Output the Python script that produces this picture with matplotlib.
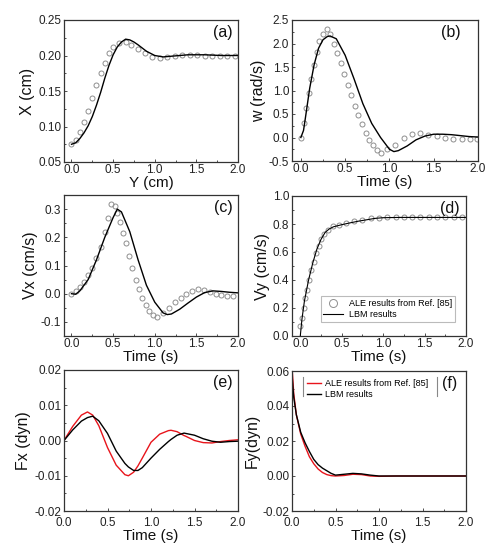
import matplotlib
matplotlib.use("Agg")
import matplotlib.pyplot as plt
from matplotlib.ticker import AutoMinorLocator, MultipleLocator
from matplotlib.lines import Line2D

plt.rcParams['font.family'] = ['Liberation Sans', 'DejaVu Sans']

# ---------------- data ----------------
# (a) X vs Y
a_lbm_y = [0.0, 0.05, 0.1, 0.15, 0.2, 0.25, 0.3, 0.35, 0.4, 0.45, 0.5, 0.55, 0.6, 0.65, 0.7, 0.75, 0.8, 0.9, 1.0, 1.1, 1.2, 1.3, 1.4, 1.6, 1.8, 2.0]
a_lbm_x = [0.075, 0.077, 0.083, 0.091, 0.101, 0.114, 0.130, 0.148, 0.168, 0.186, 0.201, 0.212, 0.219, 0.223, 0.222, 0.219, 0.215, 0.206, 0.200, 0.198, 0.199, 0.200, 0.201, 0.201, 0.200, 0.200]
a_ale_y = [0.0, 0.05, 0.1, 0.15, 0.2, 0.25, 0.3, 0.35, 0.4, 0.45, 0.5, 0.57, 0.65, 0.72, 0.8, 0.88, 0.97, 1.06, 1.15, 1.24, 1.33, 1.42, 1.51, 1.6, 1.69, 1.78, 1.87, 1.96]
a_ale_x = [0.076, 0.081, 0.092, 0.106, 0.122, 0.140, 0.158, 0.175, 0.190, 0.203, 0.212, 0.218, 0.219, 0.215, 0.209, 0.203, 0.198, 0.197, 0.198, 0.200, 0.201, 0.201, 0.201, 0.200, 0.200, 0.200, 0.200, 0.200]

# (b) w vs time
b_lbm_t = [0.0, 0.03, 0.05, 0.1, 0.15, 0.2, 0.25, 0.3, 0.33, 0.4, 0.5, 0.6, 0.7, 0.8, 0.9, 1.0, 1.05, 1.1, 1.2, 1.3, 1.4, 1.5, 1.6, 1.7, 1.8, 1.9, 2.0]
b_lbm_w = [0.0, 0.15, 0.4, 1.05, 1.55, 1.9, 2.08, 2.15, 2.16, 2.1, 1.75, 1.25, 0.72, 0.3, 0.0, -0.25, -0.3, -0.28, -0.18, -0.05, 0.03, 0.07, 0.07, 0.06, 0.04, 0.02, 0.01]
b_ale_t = [0.0, 0.03, 0.06, 0.09, 0.12, 0.15, 0.18, 0.21, 0.25, 0.29, 0.33, 0.37, 0.41, 0.45, 0.49, 0.53, 0.57, 0.61, 0.65, 0.69, 0.73, 0.77, 0.81, 0.86, 0.91, 0.97, 1.06, 1.16, 1.25, 1.35, 1.44, 1.54, 1.63, 1.72, 1.82, 1.91, 1.99]
b_ale_w = [0.0, 0.3, 0.62, 0.95, 1.25, 1.55, 1.82, 2.05, 2.2, 2.3, 2.21, 2.0, 1.8, 1.58, 1.35, 1.12, 0.9, 0.68, 0.47, 0.28, 0.1, -0.05, -0.17, -0.27, -0.33, -0.25, -0.15, 0.0, 0.07, 0.09, 0.06, 0.03, -0.01, -0.03, -0.04, -0.04, -0.04]

# (c) Vx vs time
c_lbm_t = [0.0, 0.05, 0.1, 0.2, 0.3, 0.4, 0.5, 0.55, 0.6, 0.7, 0.8, 0.9, 1.0, 1.1, 1.15, 1.2, 1.3, 1.4, 1.5, 1.6, 1.7, 1.8, 1.9, 2.0]
c_lbm_v = [0.0, -0.002, 0.01, 0.05, 0.12, 0.2, 0.27, 0.3, 0.29, 0.22, 0.12, 0.03, -0.03, -0.068, -0.074, -0.072, -0.055, -0.033, -0.012, 0.004, 0.01, 0.008, 0.005, 0.003]
c_ale_t = [0.0, 0.05, 0.1, 0.15, 0.2, 0.25, 0.3, 0.35, 0.4, 0.44, 0.48, 0.52, 0.55, 0.58, 0.62, 0.65, 0.69, 0.73, 0.77, 0.81, 0.85, 0.89, 0.93, 0.98, 1.03, 1.1, 1.17, 1.24, 1.31, 1.38, 1.45, 1.52, 1.59, 1.66, 1.73, 1.8, 1.87, 1.94]
c_ale_v = [0.0, 0.01, 0.022, 0.04, 0.065, 0.092, 0.125, 0.165, 0.22, 0.27, 0.317, 0.31, 0.285, 0.255, 0.215, 0.18, 0.135, 0.09, 0.05, 0.015, -0.015, -0.04, -0.06, -0.075, -0.082, -0.07, -0.05, -0.03, -0.015, 0.0, 0.01, 0.017, 0.012, 0.006, 0.0, -0.004, -0.007, -0.008]

# (d) Vy vs time
d_lbm_t = [0.0, 0.02, 0.05, 0.1, 0.15, 0.2, 0.25, 0.3, 0.35, 0.4, 0.5, 0.6, 0.7, 0.8, 0.9, 1.0, 1.2, 1.5, 2.0]
d_lbm_v = [0.0, 0.12, 0.25, 0.4, 0.52, 0.62, 0.69, 0.74, 0.765, 0.78, 0.795, 0.808, 0.82, 0.83, 0.84, 0.845, 0.847, 0.847, 0.847]
d_ale_t = [0.0, 0.02, 0.04, 0.06, 0.08, 0.1, 0.13, 0.16, 0.19, 0.22, 0.25, 0.29, 0.34, 0.4, 0.47, 0.55, 0.65, 0.75, 0.85, 0.95, 1.05, 1.15, 1.25, 1.35, 1.45, 1.55, 1.65, 1.75, 1.85, 1.95]
d_ale_v = [0.07, 0.13, 0.2, 0.27, 0.33, 0.4, 0.47, 0.53, 0.59, 0.64, 0.69, 0.73, 0.76, 0.785, 0.795, 0.805, 0.82, 0.83, 0.84, 0.845, 0.848, 0.848, 0.848, 0.848, 0.848, 0.848, 0.848, 0.848, 0.848, 0.848]

# (e) Fx vs time
e_t = [0.0, 0.1, 0.2, 0.27, 0.33, 0.4, 0.5, 0.6, 0.7, 0.74, 0.8, 0.85, 0.9, 1.0, 1.1, 1.2, 1.23, 1.3, 1.38, 1.4, 1.5, 1.6, 1.7, 1.8, 1.9, 2.0]
e_ale = [0.0, 0.004, 0.0072, 0.0081, 0.0072, 0.0042, -0.002, -0.007, -0.0097, -0.01, -0.009, -0.0072, -0.005, -0.0005, 0.0018, 0.0028, 0.0029, 0.0025, 0.0014, 0.0012, 0.0, -0.0006, -0.0007, -0.0003, 0.0, 0.0002]
e_lbm = [0.0, 0.003, 0.0055, 0.0065, 0.0069, 0.0056, 0.002, -0.003, -0.0065, -0.0075, -0.0085, -0.0085, -0.0077, -0.005, -0.0025, -0.0003, 0.0003, 0.0015, 0.0021, 0.002, 0.0015, 0.0005, -0.0002, -0.0005, -0.0003, -0.0002]

# (f) Fy vs time
f_t = [0.0, 0.01, 0.02, 0.05, 0.1, 0.15, 0.2, 0.25, 0.3, 0.35, 0.4, 0.45, 0.5, 0.6, 0.7, 0.8, 0.9, 1.0, 1.2, 1.5, 2.0]
f_ale = [0.062, 0.055, 0.047, 0.035, 0.024, 0.017, 0.011, 0.007, 0.004, 0.002, 0.0008, 0.0002, 0.0, 0.0003, 0.001, 0.0008, 0.0, -0.0002, 0.0, 0.0, 0.0]
f_lbm = [0.058, 0.051, 0.045, 0.035, 0.025, 0.019, 0.014, 0.0095, 0.0065, 0.0045, 0.003, 0.0015, 0.0005, 0.001, 0.0015, 0.0012, 0.0005, 0.0, 0.0, 0.0, 0.0]

legend_ale = "ALE results from Ref. [85]"
legend_lbm = "LBM results"

# ---------------- figure ----------------
W, H = 487, 550
fig = plt.figure(figsize=(W / 100, H / 100), dpi=100)


def make_ax(x0, y0, x1, y1):
    return fig.add_axes([x0 / W, 1 - y1 / H, (x1 - x0) / W, (y1 - y0) / H])


spine_col = '#333333'
circ_col = '#8f8f8f'


def style(ax, xlim, ylim, xmaj, ymaj, xlabel, ylabel, tag, yfmt, tagx=0.97, xpad=1.5):
    ax.set_xlim(*xlim)
    ax.set_ylim(*ylim)
    ax.xaxis.set_major_locator(MultipleLocator(xmaj))
    ax.yaxis.set_major_locator(MultipleLocator(ymaj))
    ax.xaxis.set_minor_locator(AutoMinorLocator(2))
    ax.yaxis.set_minor_locator(AutoMinorLocator(2))
    ax.yaxis.set_major_formatter(plt.FormatStrFormatter(yfmt))
    ax.xaxis.set_major_formatter(plt.FormatStrFormatter('%.1f'))
    ax.tick_params(which='both', direction='in', colors=spine_col, labelcolor='#222222',
                   labelsize=8.5, width=0.6)
    ax.tick_params(axis='y', pad=2)
    ax.tick_params(axis='x', pad=xpad)
    ax.tick_params(which='major', length=2.5)
    ax.tick_params(which='minor', length=1.5)
    for s in ax.spines.values():
        s.set_color(spine_col)
        s.set_linewidth(0.9)
    ax.set_xlabel(xlabel, fontsize=11, labelpad=0, color='#111111')
    ax.set_ylabel(ylabel, fontsize=11.5, labelpad=2, color='#111111')
    ax.text(tagx, 0.965, tag, transform=ax.transAxes, ha='right', va='top',
            fontsize=11.5, color='#111111')


circ_kw = dict(linestyle='none', marker='o', markersize=3.6, markerfacecolor='none',
               markeredgecolor=circ_col, markeredgewidth=0.7)
line_kw = dict(color='black', linewidth=1.0)

# (a)
ax = make_ax(64, 20, 238, 162)
ax.plot(a_ale_y, a_ale_x, **circ_kw)
ax.plot(a_lbm_y, a_lbm_x, **line_kw)
style(ax, (-0.09, 2.0), (0.05, 0.25), 0.5, 0.05, 'Y (cm)', 'X (cm)', '(a)', '%.2f')

# (b)
ax = make_ax(292, 20, 478, 161)
ax.plot(b_ale_t, b_ale_w, **circ_kw)
ax.plot(b_lbm_t, b_lbm_w, **line_kw)
style(ax, (-0.1, 2.0), (-0.5, 2.5), 0.5, 0.5, 'Time (s)', 'w (rad/s)', '(b)', '%.1f', tagx=0.905)

# (c)
ax = make_ax(64, 195, 238, 336)
ax.plot(c_ale_t, c_ale_v, **circ_kw)
ax.plot(c_lbm_t, c_lbm_v, **line_kw)
style(ax, (-0.09, 2.0), (-0.15, 0.35), 0.5, 0.1, 'Time (s)', 'Vx (cm/s)', '(c)', '%.1f')

# (d)
ax = make_ax(292, 196, 466, 336)
ax.plot(d_ale_t, d_ale_v, label=legend_ale, **circ_kw)
ax.plot(d_lbm_t, d_lbm_v, label=legend_lbm, color='black', linewidth=0.8)
style(ax, (-0.1, 2.0), (0.0, 1.0), 0.5, 0.2, 'Time (s)', 'Vy (cm/s)', '(d)', '%.1f', tagx=0.965)
leg = ax.legend(loc='lower right', bbox_to_anchor=(0.96, 0.07), fontsize=6.5,
                frameon=True, fancybox=False, edgecolor='#aaaaaa', handlelength=2.2,
                handletextpad=0.6, borderpad=0.3, labelspacing=0.2, markerscale=1.6)
leg.get_frame().set_linewidth(0.8)

# (e)
ax = make_ax(64, 370, 238, 511)
ax.plot(e_t, e_ale, color='#e8141b', linewidth=1.0)
ax.plot(e_t, e_lbm, color='black', linewidth=1.0)
style(ax, (0.0, 2.0), (-0.02, 0.02), 0.5, 0.01, 'Time (s)', 'Fx (dyn)', '(e)', '%.2f', xpad=4)

# (f)
ax = make_ax(292, 371, 466, 511)
ax.plot(f_t, f_ale, color='#e8141b', linewidth=1.0, label=legend_ale)
ax.plot(f_t, f_lbm, color='black', linewidth=1.0, label=legend_lbm)
style(ax, (0.0, 2.0), (-0.02, 0.06), 0.5, 0.02, 'Time (s)', 'Fy(dyn)', '(f)', '%.2f', tagx=0.95, xpad=4)
ax.legend(loc='upper left', bbox_to_anchor=(0.05, 0.985), fontsize=6.5, frameon=False,
          handlelength=1.6, handletextpad=0.4, borderpad=0.2, labelspacing=0.2)
for xb in (0.065, 0.835):
    ax.add_line(Line2D([xb, xb], [0.82, 0.96], transform=ax.transAxes,
                       color='#888888', linewidth=0.8))

fig.savefig('out.png', dpi=100)
